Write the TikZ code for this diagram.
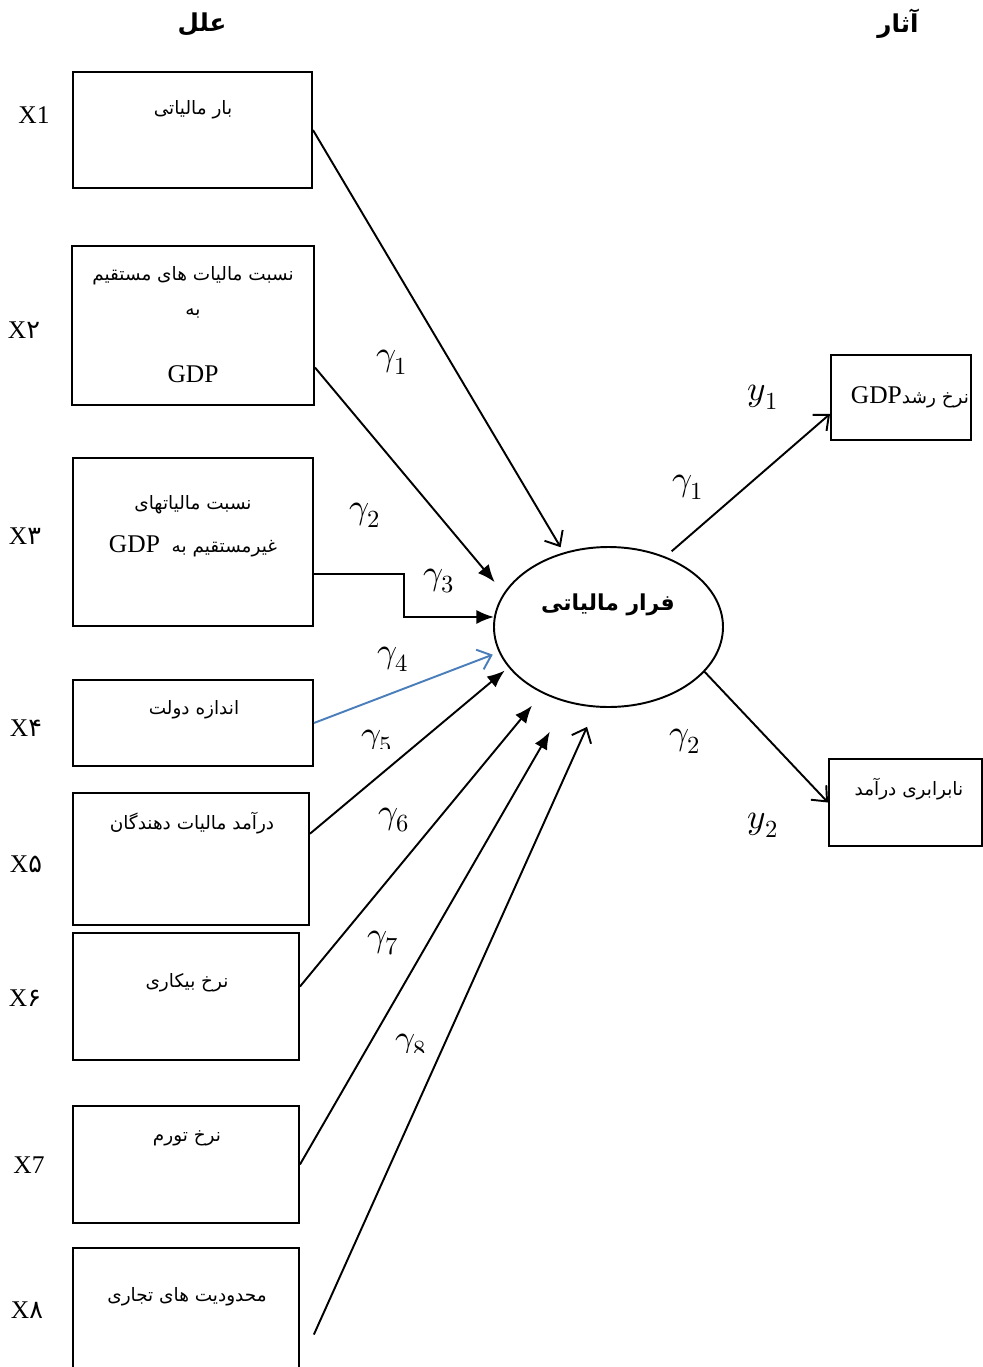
\documentclass[tikz,border=0pt]{standalone}
\usepackage{fontspec}
\usepackage{unicode-math}
\setmainfont{Liberation Serif}
\setmathfont{Latin Modern Math}
\newfontfamily\persfont[Script=Arabic]{DejaVu Sans}
\TeXXeTstate=1
\usetikzlibrary{shapes.geometric,arrows.meta,calc}
\definecolor{effblue}{HTML}{4A7EBB}
\newcommand{\px}{0.02cm}
\newcommand{\gdp}{\beginL{\rmfamily\fontsize{14.5}{16}\selectfont GDP}\endL}
\tikzset{
  cause/.style={draw,line width=1.1pt,inner sep=0pt},
  fatext/.style={font=\persfont\fontsize{10.5}{12}\selectfont,inner sep=1pt},
  head/.style={font=\persfont\bfseries\fontsize{14}{16}\selectfont,inner sep=1pt},
  xlab/.style={font=\fontsize{14.5}{16}\selectfont,inner sep=1pt},
  coef/.style={font=\fontsize{20}{22}\selectfont,inner sep=1pt},
  toarr/.style={line width=1.1pt,-{Latex[length=10pt,width=8pt]}},
  openarr/.style={line width=1.1pt,-{Straight Barb[length=7pt,width=12pt,line width=1.1pt]}}
}
\begin{document}
\begin{tikzpicture}[x=0.02cm,y=-0.02cm]
\clip (0,0) rectangle (983,1367);
% causes
\foreach \n/\x/\y/\w/\h in {
b1/192.5/130/239/116,
b2/193/325.5/242/159,
b3/193/542/240/168,
b4/193/723/240/86,
b5/191/859/236/132,
b6/186/996.5/226/127,
b7/186/1164.5/226/117,
b8/186/1324/226/152,
r1/901/397.5/140/85,
r2/905.5/802.5/153/87
}
{
  \node[cause,minimum width=\w*\px,minimum height=\h*\px] (\n) at (\x,\y) {};
}
\node[draw,ellipse,line width=1.1pt,inner sep=0pt,minimum width=229*\px,minimum height=160*\px] (ell) at (608.5,627) {};

\foreach \n/\x/\y/\t in {
t1/193/110/{بار مالیاتی},
t2/193/276/{نسبت مالیات های مستقیم},
t2b/193/313/{به},
t3/193/505/{نسبت مالیاتهای},
t3b/193/546/{غیرمستقیم به \ \gdp},
t4/194/710/{اندازه دولت},
t5/192/823/{درآمد مالیات دهندگان},
t6/187/983/{نرخ بیکاری},
t7/187/1138/{نرخ تورم},
t8/187/1297/{محدودیت های تجاری},
tr1/910/397/{نرخ رشد\gdp},
tr2/906/789/{نابرابری درآمد}
}
{
  \node[fatext] (\n) at (\x,\y) {\beginR\t\endR};
}
\node[xlab] (t2c) at (193,374) {GDP};
\node[head,font=\persfont\bfseries\fontsize{12.5}{15}\selectfont] (tell) at (608,605) {\beginR فرار مالیاتی\endR};
\node[head] (h1) at (202,24) {\beginR علل\endR};
\node[head] (h2) at (898,24) {\beginR آثار\endR};

% labels of the causes
\foreach \n/\x/\y/\t in {
x1/34/115/{1}, x2/24/330/{\persfont ۲}, x3/25/536/{\persfont ۳},
x4/26/728/{\persfont ۴}, x5/26/864/{\persfont ۵}, x6/25/998/{\persfont ۶},
x7/29/1165/{7}, x8/27/1310/{\persfont ۸}
}
{
  \node[xlab] (\n) at (\x,\y) {X\t};
}

% coefficients
\foreach \n/\x/\y/\t in {
g1/392/362/\gamma_1, g2/365/515/\gamma_2, g3/439/581/\gamma_3,
g4/393/659/\gamma_4, g6/394/820/\gamma_6, g7/383/943/\gamma_7,
e1/688/487/\gamma_1, e2/685/741/\gamma_2, y1/763/397/y_1, y2/763/825/y_2
}
{
  \node[coef] (\n) at (\x,\y) {$\t$};
}
\begin{scope}
  \clip (340,700) rectangle (430,748);
  \node[coef] (g5) at (377,742) {$\gamma_5$};
\end{scope}
\begin{scope}
  \clip (370,1000) rectangle (460,1052);
  \node[coef] (g8) at (411,1046) {$\gamma_8$};
\end{scope}

% paths
\draw[openarr,shorten >=3.4pt] (b1.east) -- (ell.121);
\draw[toarr,shorten >=8pt] (b2.-19) -- (ell.162);
\draw[toarr] (b3.-15) -| ($(b3.-15)!.5!(ell.175)$) |- (ell.175);
\draw[openarr,effblue,shorten >=3.7pt] (b4.east) -- (ell.193);
\draw[toarr,shorten >=2.8pt] (b5.12) -- (ell.202);
\draw[toarr,shorten >=9.1pt] (b6.5) -- (ell.225);
\draw[toarr,shorten >=19.2pt] (b7.east) -- (ell.241.5);
\draw[openarr,shorten <=19.3pt,shorten >=12.1pt] (b8.-20.4) -- (ell.261.6);
\draw[openarr,shorten <=4.6pt] (ell.51) -- (r1.193);
\draw[openarr] (ell.335) -- (r2.west);
\end{tikzpicture}
\end{document}
